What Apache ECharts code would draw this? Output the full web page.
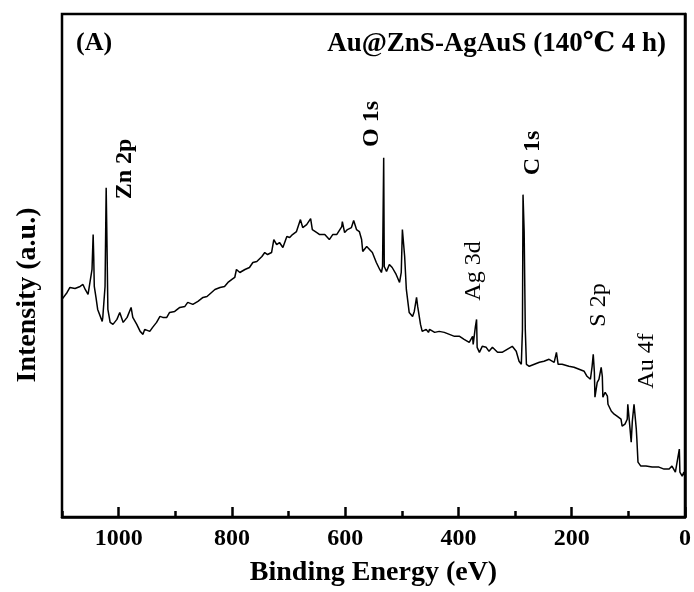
<!DOCTYPE html>
<html>
<head>
<meta charset="utf-8">
<script src="https://cdn.jsdelivr.net/npm/echarts@6/dist/echarts.min.js"></script>
<style>
html, body { margin: 0; padding: 0; background: #fff; }
#xpsChart { width: 694px; height: 592px; }
</style>
</head>
<body>
<div id="xpsChart"></div>
<script>
// XPS survey spectrum, binding energy (eV) vs intensity (a.u.)
var energy = [
	1100, 1091, 1086, 1077, 1068, 1063, 1059, 1054, 1051, 1047,
	1045, 1044, 1043, 1040, 1037, 1029, 1028, 1024, 1022, 1021,
	1019, 1015, 1010, 1003, 998, 992, 985, 978, 975, 968,
	962, 957, 954, 945, 940, 933, 927, 922, 915, 910,
	901, 892, 883, 878, 869, 860, 851, 844, 836, 830,
	821, 813, 807, 800, 795, 792, 786, 777, 769, 763,
	756, 747, 742, 737, 730, 726, 721, 716, 710, 703,
	698, 693, 686, 679, 675, 668, 661, 658, 650, 645,
	636, 628, 622, 615, 606, 605, 601, 596, 589, 585,
	580, 575, 571, 569, 562, 557, 552, 545, 539, 536,
	534, 532, 531, 527, 522, 517, 510, 504, 501, 499,
	495, 492, 487, 481, 478, 474, 472, 467, 464, 457,
	453, 451, 442, 434, 425, 416, 407, 398, 390, 381,
	375, 374, 370, 368, 367, 363, 358, 351, 346, 340,
	331, 323, 314, 305, 298, 293, 289, 287, 286, 284,
	282, 280, 275, 266, 257, 249, 240, 231, 227, 224,
	217, 205, 196, 187, 178, 173, 167, 164, 162, 160,
	159, 155, 152, 148, 146, 145, 141, 137, 136, 130,
	125, 120, 113, 111, 106, 102, 101, 97, 95, 93,
	90, 86, 85, 83, 78, 69, 58, 46, 37, 28,
	23, 17, 14, 10, 9, 5, 2, 0
];
var intensity = [
	218, 225, 230, 229, 231, 233, 228, 223, 225, 248,
	283, 261, 231, 220, 208, 196, 200, 231, 330, 291,
	208, 195, 193, 198, 205, 195, 200, 210, 200, 193,
	186, 183, 188, 186, 190, 195, 201, 200, 200, 205,
	206, 210, 211, 215, 213, 216, 220, 221, 225, 228,
	230, 231, 235, 238, 240, 248, 245, 248, 250, 255,
	256, 261, 265, 263, 265, 278, 273, 275, 270, 281,
	280, 283, 286, 298, 290, 293, 299, 288, 285, 283,
	283, 278, 283, 283, 291, 296, 285, 288, 290, 297,
	288, 286, 278, 266, 271, 268, 265, 255, 248, 245,
	251, 360, 251, 246, 253, 250, 243, 235, 245, 288,
	261, 228, 205, 201, 206, 220, 211, 193, 186, 188,
	185, 188, 185, 186, 185, 183, 181, 181, 178, 175,
	181, 173, 191, 198, 170, 165, 171, 170, 166, 170,
	165, 165, 168, 171, 166, 156, 153, 188, 323, 286,
	188, 153, 151, 153, 155, 156, 158, 155, 165, 153,
	153, 151, 150, 148, 146, 141, 138, 151, 163, 145,
	120, 135, 138, 150, 141, 120, 125, 121, 113, 106,
	103, 101, 98, 91, 93, 98, 113, 88, 75, 96,
	113, 88, 78, 55, 51, 51, 50, 50, 48, 48,
	51, 45, 46, 68, 45, 41, 45, 40
];
var peakNames = ['Zn 2p', 'O 1s', 'C 1s', 'Ag 3d', 'S 2p', 'Au 4f'];
var panelLabel = '(A)';
var sampleName = 'Au@ZnS-AgAuS (140\u2103 4 h)';

var serif = '"Liberation Serif", "Times New Roman", "DejaVu Serif", serif';
var spectrum = energy.map(function (e, i) { return [e, intensity[i]]; });

// rotated peak labels, placed beside each peak
var peakPos = [
	{ x: 125, y: 169, bold: true },
	{ x: 372, y: 124, bold: true },
	{ x: 533, y: 153, bold: true },
	{ x: 474, y: 271, bold: false },
	{ x: 599, y: 305, bold: false },
	{ x: 647, y: 361, bold: false }
];
var graphics = peakNames.map(function (name, i) {
	return {
		type: 'text',
		x: peakPos[i].x,
		y: peakPos[i].y,
		rotation: Math.PI / 2,
		style: {
			text: name,
			fill: '#000',
			font: (peakPos[i].bold ? 'bold ' : '') + '24px ' + serif,
			align: 'center',
			verticalAlign: 'middle'
		}
	};
});
graphics.push({
	type: 'text', x: 76, y: 43,
	style: { text: panelLabel, fill: '#000', font: 'bold 26px ' + serif, align: 'left', verticalAlign: 'middle' }
});
graphics.push({
	type: 'text', x: 666, y: 44,
	style: { text: sampleName, fill: '#000', font: 'bold 27px ' + serif, align: 'right', verticalAlign: 'middle' }
});
graphics.push({
	type: 'text', x: 28, y: 295, rotation: Math.PI / 2,
	style: { text: 'Intensity (a.u.)', fill: '#000', font: 'bold 28px ' + serif, align: 'center', verticalAlign: 'middle' }
});

var xpsChart = echarts.init(document.getElementById('xpsChart'));
xpsChart.setOption({
	animation: false,
	backgroundColor: '#fff',
	grid: {
		left: 62,
		right: 8,
		top: 14,
		bottom: 74,
		show: true,
		borderColor: '#000',
		borderWidth: 2.5
	},
	xAxis: [{
		type: 'value',
		min: 0,
		max: 1100,
		interval: 200,
		inverse: true,
		position: 'bottom',
		name: 'Binding Energy (eV)',
		nameLocation: 'middle',
		nameGap: 42,
		nameTextStyle: { color: '#000', fontFamily: serif, fontWeight: 'bold', fontSize: 28 },
		axisLine: { lineStyle: { color: '#000', width: 2.5 } },
		axisTick: { inside: true, length: 10, lineStyle: { color: '#000', width: 2.5 } },
		axisLabel: {
			margin: 10,
			showMaxLabel: false,
			formatter: function (v) { return String(v); },
			color: '#000',
			fontFamily: serif,
			fontWeight: 'bold',
			fontSize: 24
		},
		splitLine: { show: false }
	}, {
		// minor ticks every 100 eV
		type: 'value',
		min: 0,
		max: 1100,
		interval: 100,
		inverse: true,
		position: 'bottom',
		axisLine: { show: false },
		axisTick: { inside: true, length: 6, lineStyle: { color: '#000', width: 2.5 } },
		axisLabel: { show: false },
		splitLine: { show: false }
	}],
	yAxis: {
		type: 'value',
		min: 0,
		max: 504,
		axisLine: { show: true, lineStyle: { color: '#000', width: 2.5 } },
		axisTick: { show: false },
		axisLabel: { show: false },
		splitLine: { show: false }
	},
	series: [{
		type: 'line',
		xAxisIndex: 0,
		data: spectrum,
		showSymbol: false,
		lineStyle: { color: '#000', width: 1.5 }
	}],
	graphic: graphics
});
</script>
</body>
</html>
